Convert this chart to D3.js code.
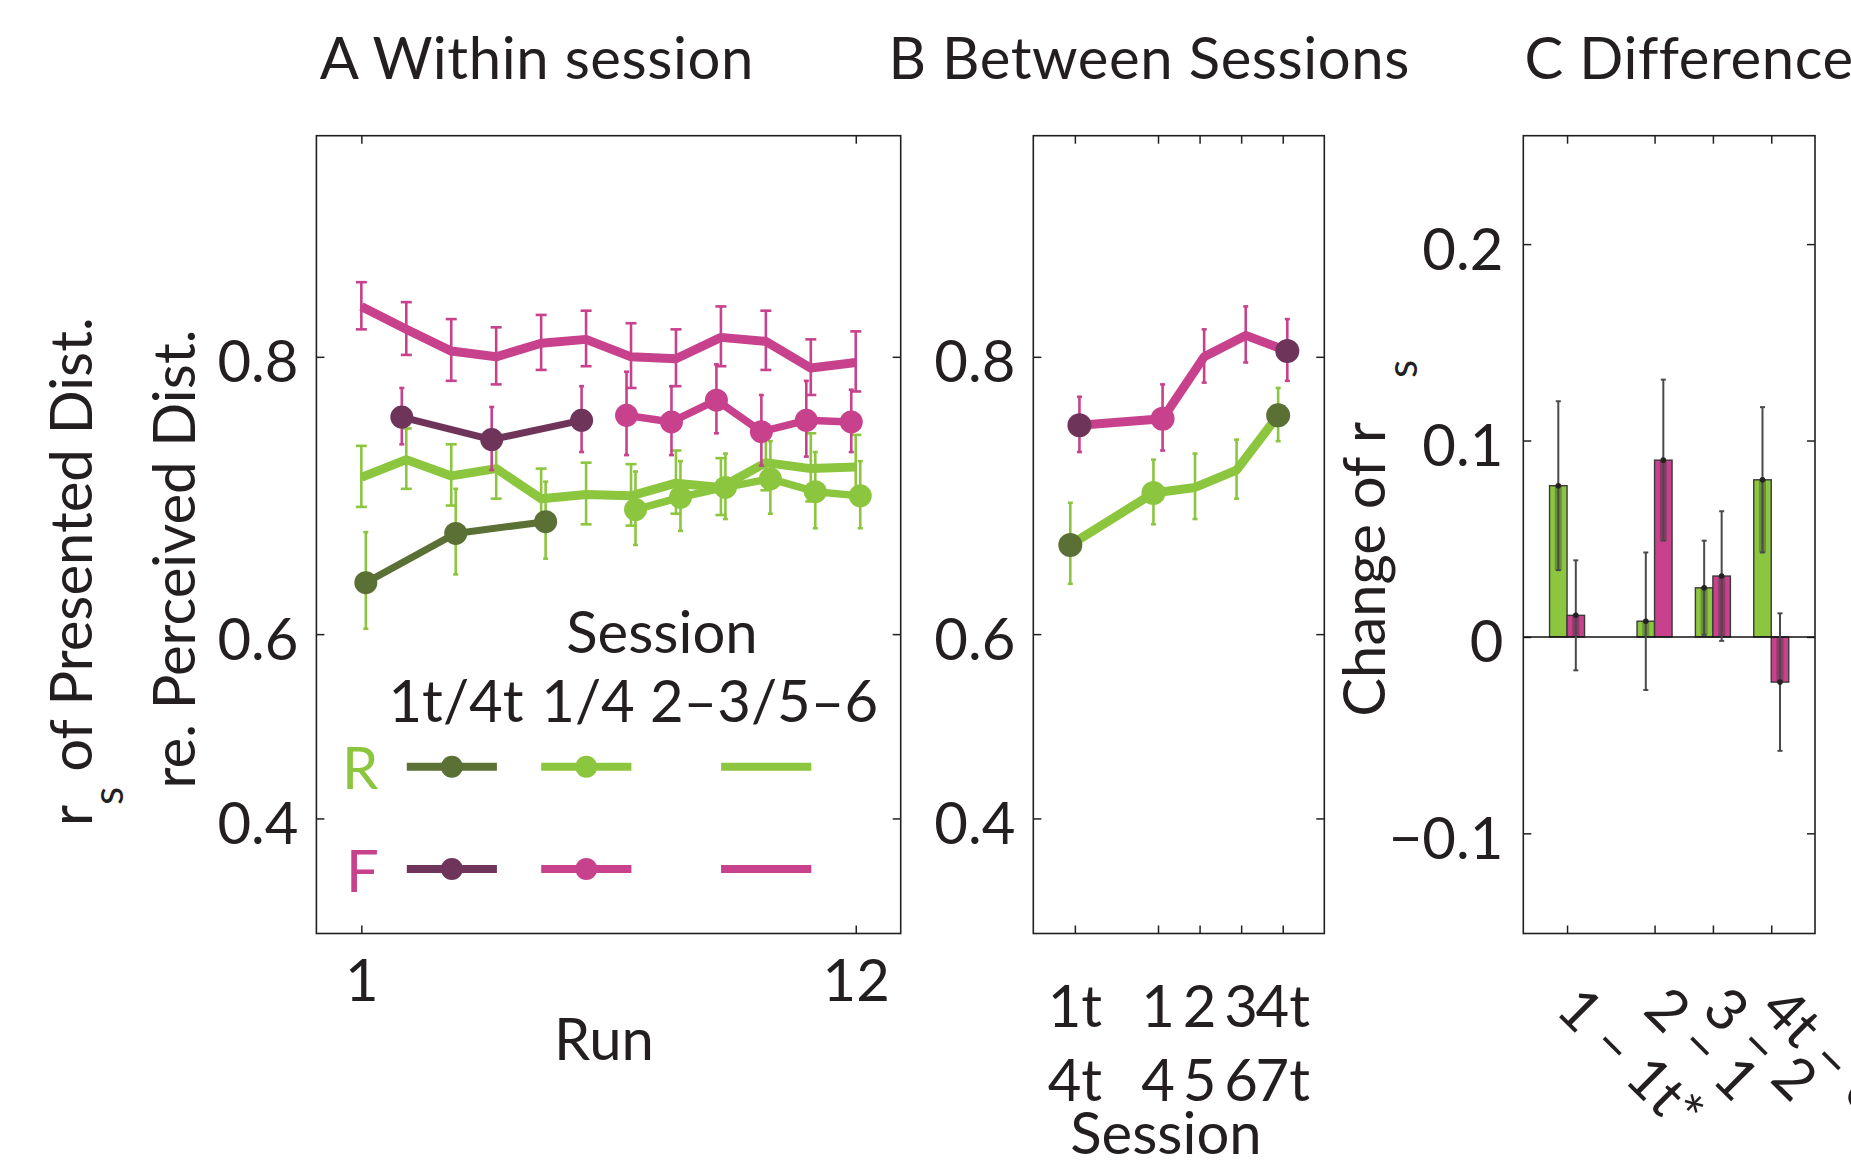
<!DOCTYPE html>
<html><head><meta charset="utf-8">
<script src="https://cdn.jsdelivr.net/npm/d3@7"></script>
<style>
html,body{margin:0;padding:0;background:#fff;}
svg{display:block;}
text{font-family:Lato,"Open Sans",sans-serif;fill:#231f20;}
</style></head><body>
<svg id="chart" width="1851" height="1165"></svg>
<script>
// ---------------- data ----------------
// Panel A: within session (r_s), runs
const runsLater = [1,2,3,4,5,6,7,8,9,10,11,12];      // sessions 2–3/5–6
const runsMid   = [7,8,9,10,11,12];                   // sessions 1/4
const runsEarlyR = [1,3,5];                           // sessions 1t/4t, R
const runsEarlyF = [2,4,6];                           // sessions 1t/4t, F
const R_later = [0.727,0.739,0.728,0.733,0.712,0.715,0.714,0.723,0.720,0.737,0.733,0.734];
const R_later_err = [0.021,0.020,0.021,0.021,0.021,0.022,0.022,0.022,0.020,0.019,0.023,0.021];
const F_later = [0.825,0.814,0.803,0.800,0.807,0.809,0.800,0.799,0.810,0.808,0.794,0.797];
const F_later_err = [0.011,0.013,0.016,0.015,0.014,0.014,0.017,0.015,0.015,0.015,0.015,0.016];
const R_mid = [0.704,0.713,0.720,0.726,0.717,0.714];
const R_mid_err = [0.027,0.025,0.023,0.025,0.027,0.024];
const F_mid = [0.767,0.763,0.776,0.757,0.764,0.763];
const F_mid_err = [0.025,0.021,0.020,0.022,0.023,0.019];
const R_early = [0.646,0.686,0.695];
const R_early_err = [0.041,0.033,0.029];
const F_early = [0.766,0.752,0.764];
const F_early_err = [0.017,0.020,0.020];

// Panel B: between sessions
const sessPos = [1,3,4,5,6];
const sessLine1 = ["1t","1","2","3","4t"];
const sessLine2 = ["4t","4","5","6","7t"];
const R_B = [0.677,0.716,0.720,0.732,0.767];
const R_B_err = [0.032,0.023,0.023,0.020,0.016];
const F_B = [0.761,0.765,0.800,0.811,0.803];
const F_B_err = [0.017,0.020,0.014,0.014,0.016];
const markerB = ["early","mid",null,null,"early"];

// Panel C: differences
const diffLabels = ["1 \u2013 1t*","2 \u2013 1","3 \u2013 2","4t \u2013 3"];
const diffPos = [1,2.5,3.5,4.5];
const C_R = [0.077,0.008,0.025,0.080];
const C_R_err = [0.043,0.035,0.024,0.037];
const C_F = [0.011,0.090,0.031,-0.023];
const C_F_err = [0.028,0.041,0.033,0.035];

const yTicksR = [0.4,0.6,0.8];
const yTicksC = [-0.1,0,0.1,0.2];

// ---------------- style ----------------
const col = {lg:"#8cc63f", dg:"#5b7034", mg:"#c8418c", dp:"#6e345a", ink:"#231f20"};
const FS = 58, FSsub = 42;

const svg = d3.select("#chart");
const A = {l:316.4, r:900.7, t:135.7, b:933.5};
const B = {l:1033.3, r:1324.3, t:135.7, b:933.5};
const C = {l:1523.3, r:1815, t:135.7, b:933.5};

// Fisher-z y scale for r_s
const zA = d3.scaleLinear().domain([Math.atanh(0.25), Math.atanh(0.89)]).range([A.b, A.t]);
const yR = v => zA(Math.atanh(v));
const xA = d3.scaleLinear().domain([0,13]).range([A.l, A.r]);
const xB = d3.scaleLinear().domain([0,7]).range([B.l, B.r]);
const xC = d3.scaleLinear().domain([0.25,5.25]).range([C.l, C.r]);
const yC = d3.scaleLinear().domain([-0.151,0.2552]).range([C.b, C.t]);

function styleAxis(g){
  g.attr("font-size",null).attr("font-family",null);
  g.select(".domain").remove();
  g.selectAll(".tick line").attr("stroke",col.ink).attr("stroke-width",1.5);
  g.selectAll("text").attr("font-size",FS);
}
function box(p){
  svg.append("rect").attr("x",p.l).attr("y",p.t).attr("width",p.r-p.l).attr("height",p.b-p.t)
    .attr("fill","none").attr("stroke",col.ink).attr("stroke-width",1.6);
}

// ---------------- Panel A ----------------
svg.append("g").attr("transform",`translate(0,${A.b})`)
  .call(d3.axisBottom(xA).tickValues([1,12]).tickSize(-8).tickPadding(26).tickFormat(d3.format("d"))).call(styleAxis);
svg.append("g").attr("transform",`translate(0,${A.t})`)
  .call(d3.axisTop(xA).tickValues([1,12]).tickSize(-8).tickFormat("")).call(styleAxis);
svg.append("g").attr("transform",`translate(${A.l},0)`)
  .call(d3.axisLeft(zA).tickValues(yTicksR.map(Math.atanh)).tickSize(-8).tickPadding(18)
    .tickFormat(z=>d3.format(".1f")(Math.tanh(z)))).call(styleAxis)
  .selectAll("text").attr("dy","0.43em");
svg.append("g").attr("transform",`translate(${A.r},0)`)
  .call(d3.axisRight(zA).tickValues(yTicksR.map(Math.atanh)).tickSize(-8).tickFormat("")).call(styleAxis);
box(A);

function errBars(g, xs, ys, es, xs_, yf, color, cap, w){
  const gg = g.append("g").attr("stroke",color).attr("stroke-width",w).attr("fill","none");
  xs.forEach((x,i)=>{
    const X = xs_(x), y1 = yf(ys[i]-es[i]), y2 = yf(ys[i]+es[i]);
    gg.append("line").attr("x1",X).attr("x2",X).attr("y1",y1).attr("y2",y2);
    gg.append("line").attr("x1",X-cap/2).attr("x2",X+cap/2).attr("y1",y1).attr("y2",y1);
    gg.append("line").attr("x1",X-cap/2).attr("x2",X+cap/2).attr("y1",y2).attr("y2",y2);
  });
}
function line(g, xs, ys, xs_, yf, color, w){
  g.append("path").datum(xs.map((x,i)=>[x,ys[i]]))
    .attr("d", d3.line().x(d=>xs_(d[0])).y(d=>yf(d[1])))
    .attr("fill","none").attr("stroke",color).attr("stroke-width",w)
    .attr("stroke-linejoin","round").attr("stroke-linecap","butt");
}
function dots(g, xs, ys, xs_, yf, color, r){
  g.selectAll(null).data(xs.map((x,i)=>[x,ys[i]])).join("circle")
    .attr("cx",d=>xs_(d[0])).attr("cy",d=>yf(d[1])).attr("r",r).attr("fill",color);
}

const gA = svg.append("g");
const rOff = x => x + 0.1, fOff = x => x - 0.1;
const xsRmid = runsMid.map(rOff), xsFmid = runsMid.map(fOff);
const xsRe = runsEarlyR.map(rOff), xsFe = runsEarlyF.map(fOff);
errBars(gA, runsLater, R_later, R_later_err, xA, yR, col.lg, 11, 2.6);
errBars(gA, xsRmid, R_mid, R_mid_err, xA, yR, col.lg, 5, 2.6);
errBars(gA, xsRe, R_early, R_early_err, xA, yR, col.lg, 5, 2.6);
line(gA, runsLater, R_later, xA, yR, col.lg, 9);
line(gA, xsRmid, R_mid, xA, yR, col.lg, 7.5);
line(gA, xsRe, R_early, xA, yR, col.dg, 7);
dots(gA, xsRmid, R_mid, xA, yR, col.lg, 11.5);
dots(gA, xsRe, R_early, xA, yR, col.dg, 11.5);
errBars(gA, runsLater, F_later, F_later_err, xA, yR, col.mg, 11, 2.6);
errBars(gA, xsFmid, F_mid, F_mid_err, xA, yR, col.mg, 5, 2.6);
errBars(gA, xsFe, F_early, F_early_err, xA, yR, col.mg, 5, 2.6);
line(gA, runsLater, F_later, xA, yR, col.mg, 9);
line(gA, xsFmid, F_mid, xA, yR, col.mg, 7.5);
line(gA, xsFe, F_early, xA, yR, col.dp, 7);
dots(gA, xsFmid, F_mid, xA, yR, col.mg, 11.5);
dots(gA, xsFe, F_early, xA, yR, col.dp, 11.5);

// legend
const leg = svg.append("g");
leg.append("text").attr("x",662).attr("y",652.7).attr("text-anchor","middle").attr("font-size",FS).text("Session");
[["1t/4t",456],["1/4",588],["2\u20133/5\u20136",764]].forEach(([t,x])=>
  leg.append("text").attr("x",x).attr("y",721.7).attr("text-anchor","middle").attr("font-size",FS).text(t));
leg.append("text").attr("x",342).attr("y",789.3).attr("font-size",FS).style("fill",col.lg).text("R");
leg.append("text").attr("x",346).attr("y",891.7).attr("font-size",FS).style("fill",col.mg).text("F");
const segs = [[406.8,496.9],[541.2,631.4],[721.1,811.3]];
[[766.7,[col.dg,col.lg,col.lg]],[869,[col.dp,col.mg,col.mg]]].forEach(([y,cs])=>{
  segs.forEach((s,i)=>{
    leg.append("line").attr("x1",s[0]).attr("x2",s[1]).attr("y1",y).attr("y2",y)
      .attr("stroke",cs[i]).attr("stroke-width",8);
    if(i<2) leg.append("circle").attr("cx",(s[0]+s[1])/2).attr("cy",y).attr("r",11).attr("fill",cs[i]);
  });
});

svg.append("text").attr("x",604).attr("y",1060).attr("text-anchor","middle").attr("font-size",FS).text("Run");

// A y label
const ylA1 = svg.append("g").attr("transform","translate(92,826) rotate(-90)")
  .append("text").attr("font-size",FS);
ylA1.append("tspan").text("r");
ylA1.append("tspan").attr("font-size",FSsub).attr("dy",31).text("s");
ylA1.append("tspan").attr("dy",-31).text(" of Presented Dist.");
svg.append("g").attr("transform","translate(195,559) rotate(-90)")
  .append("text").attr("font-size",FS).attr("text-anchor","middle").text("re. Perceived Dist.");

// ---------------- Panel B ----------------
svg.append("g").attr("transform",`translate(0,${B.b})`)
  .call(d3.axisBottom(xB).tickValues(sessPos).tickSize(-8).tickFormat("")).call(styleAxis);
svg.append("g").attr("transform",`translate(0,${B.t})`)
  .call(d3.axisTop(xB).tickValues(sessPos).tickSize(-8).tickFormat("")).call(styleAxis);
svg.append("g").attr("transform",`translate(${B.l},0)`)
  .call(d3.axisLeft(zA).tickValues(yTicksR.map(Math.atanh)).tickSize(-8).tickPadding(18)
    .tickFormat(z=>d3.format(".1f")(Math.tanh(z)))).call(styleAxis)
  .selectAll("text").attr("dy","0.43em");
svg.append("g").attr("transform",`translate(${B.r},0)`)
  .call(d3.axisRight(zA).tickValues(yTicksR.map(Math.atanh)).tickSize(-8).tickFormat("")).call(styleAxis);
box(B);
const gBl = svg.append("g");
gBl.selectAll(null).data(sessPos).join("text").attr("x",d=>xB(d)).attr("y",1027)
  .attr("text-anchor","middle").attr("font-size",FS).text((d,i)=>sessLine1[i]);
gBl.selectAll(null).data(sessPos).join("text").attr("x",d=>xB(d)).attr("y",1101)
  .attr("text-anchor","middle").attr("font-size",FS).text((d,i)=>sessLine2[i]);
svg.append("text").attr("x",1166).attr("y",1154).attr("text-anchor","middle").attr("font-size",FS).text("Session");

const gB = svg.append("g");
const xsRB = sessPos.map(x=>x-0.11), xsFB = sessPos.map(x=>x+0.11);
errBars(gB, xsRB, R_B, R_B_err, xB, yR, col.lg, 5, 2.6);
line(gB, xsRB, R_B, xB, yR, col.lg, 9);
errBars(gB, xsFB, F_B, F_B_err, xB, yR, col.mg, 5, 2.6);
line(gB, xsFB, F_B, xB, yR, col.mg, 9);
markerB.forEach((m,i)=>{
  if(!m) return;
  gB.append("circle").attr("cx",xB(xsRB[i])).attr("cy",yR(R_B[i])).attr("r",12).attr("fill",m==="early"?col.dg:col.lg);
  gB.append("circle").attr("cx",xB(xsFB[i])).attr("cy",yR(F_B[i])).attr("r",12).attr("fill",m==="early"?col.dp:col.mg);
});

// ---------------- Panel C ----------------
svg.append("g").attr("transform",`translate(0,${C.b})`)
  .call(d3.axisBottom(xC).tickValues(diffPos).tickSize(-8).tickFormat("")).call(styleAxis);
svg.append("g").attr("transform",`translate(0,${C.t})`)
  .call(d3.axisTop(xC).tickValues(diffPos).tickSize(-8).tickFormat("")).call(styleAxis);
svg.append("g").attr("transform",`translate(${C.l},0)`)
  .call(d3.axisLeft(yC).tickValues(yTicksC).tickSize(-8).tickPadding(20)
    .tickFormat(d=>d===0?"0":d3.format(".1f")(d))).call(styleAxis)
  .selectAll("text").attr("dy","0.43em");
svg.append("g").attr("transform",`translate(${C.r},0)`)
  .call(d3.axisRight(yC).tickValues(yTicksC).tickSize(-8).tickFormat("")).call(styleAxis);

const gC = svg.append("g");
const bw = xC(0.3)-xC(0);
function barSet(vals, errs, side, color){
  vals.forEach((v,i)=>{
    const x0 = side<0 ? xC(diffPos[i])-bw : xC(diffPos[i]);
    const cx = x0 + bw/2;
    const yTop = yC(Math.max(v,0)), yBot = yC(Math.min(v,0));
    gC.append("rect").attr("x",x0).attr("y",yTop).attr("width",bw).attr("height",yBot-yTop)
      .attr("fill",color).attr("stroke","#3a3a3a").attr("stroke-width",1.4);
    // darker band where the error bar lies inside the bar
    const lo = v-errs[i], hi = v+errs[i];
    const a = Math.max(Math.min(v,0), lo), b = Math.min(Math.max(v,0), hi);
    if(b>a) gC.append("rect").attr("x",cx-3.5).attr("y",yC(b)).attr("width",7).attr("height",yC(a)-yC(b))
      .attr("fill","#2a2a2a").attr("opacity",0.35);
  });
}
barSet(C_R, C_R_err, -1, col.lg);
barSet(C_F, C_F_err, 1, col.mg);
gC.append("line").attr("x1",C.l).attr("x2",C.r).attr("y1",yC(0)).attr("y2",yC(0)).attr("stroke","#111").attr("stroke-width",1.6);
function cErr(vals, errs, side){
  const xs = diffPos.map(p=>p + side*0.15);
  errBars(gC, xs, vals, errs, xC, yC, "#4a4a4a", 5, 2);
  gC.selectAll(null).data(vals).join("circle").attr("cx",(d,i)=>xC(xs[i])).attr("cy",d=>yC(d)).attr("r",2.8).attr("fill","#222");
}
cErr(C_R, C_R_err, -1);
cErr(C_F, C_F_err, 1);
box(C);

svg.append("g").selectAll(null).data(diffPos).join("text")
  .attr("transform",d=>`translate(${xC(d)-13},1012) rotate(45)`)
  .attr("font-size",FS).text((d,i)=>diffLabels[i]);

svg.append("g").attr("transform","translate(1385,716.7) rotate(-90)")
  .append("text").attr("font-size",FS).text("Change of r");
svg.append("g").attr("transform","translate(1417,378) rotate(-90)")
  .append("text").attr("font-size",FSsub).text("s");

// ---------------- titles ----------------
svg.append("text").attr("x",319.8).attr("y",79.3).attr("font-size",FS).attr("letter-spacing",0.6).text("A Within session");
svg.append("text").attr("x",888.5).attr("y",79.3).attr("font-size",FS).attr("letter-spacing",0.6).text("B Between Sessions");
svg.append("text").attr("x",1524.5).attr("y",79.3).attr("font-size",FS).attr("letter-spacing",0.6).text("C Difference");
</script>
</body></html>
